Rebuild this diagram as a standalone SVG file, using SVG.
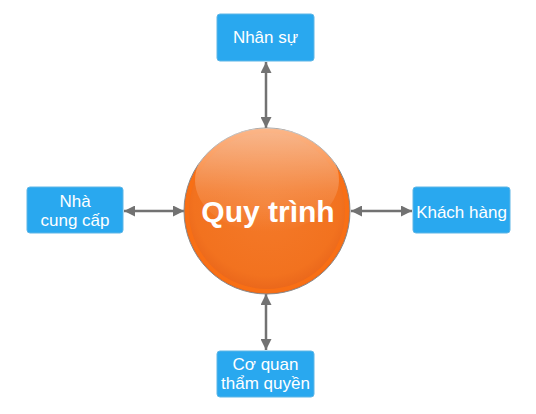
<svg xmlns="http://www.w3.org/2000/svg" width="536" height="414" viewBox="0 0 536 414">
<defs>
<style>
.box{fill:#29a8ef;stroke:#5fb6e6;stroke-width:1}
.lbl{font-family:"Liberation Sans",Arial,sans-serif;font-size:17px;fill:#ffffff;text-anchor:middle}
.conn{stroke:#727272;stroke-width:2.5;fill:none;marker-start:url(#ah);marker-end:url(#ah)}
.title{font-family:"Liberation Sans",Arial,sans-serif;font-size:30px;font-weight:bold;fill:#ffffff;text-anchor:middle}
</style>
<marker id="ah" viewBox="0 0 10 10" refX="10" refY="5" markerWidth="4.4" markerHeight="4.4" orient="auto-start-reverse" markerUnits="strokeWidth">
<path d="M0,0 L10,5 L0,10 Z" fill="#727272"/>
</marker>
<radialGradient id="ball" cx="0.5" cy="0.45" r="0.55">
<stop offset="0" stop-color="#f47a2a"/>
<stop offset="0.8" stop-color="#f2721f"/>
<stop offset="1" stop-color="#e8641a"/>
</radialGradient>
<linearGradient id="gloss" x1="0" y1="0" x2="0" y2="1">
<stop offset="0" stop-color="#ffffff" stop-opacity="0.5"/>
<stop offset="0.6" stop-color="#ffffff" stop-opacity="0.15"/>
<stop offset="1" stop-color="#ffffff" stop-opacity="0"/>
</linearGradient>
</defs>
<rect width="536" height="414" fill="#ffffff"/>
<g id="connectors">
<line class="conn" x1="266" y1="62" x2="266" y2="128"/>
<line class="conn" x1="266" y1="294" x2="266" y2="350"/>
<line class="conn" x1="124" y1="211" x2="184" y2="211"/>
<line class="conn" x1="351" y1="211" x2="412" y2="211"/>
</g>
<g id="center">
<circle cx="267" cy="211" r="83" fill="url(#ball)" stroke="#8a8a8a" stroke-width="1"/>
<circle cx="267" cy="211" r="80" fill="none" stroke="#f86f15" stroke-width="4"/>
<ellipse cx="267" cy="180" rx="72" ry="52" fill="url(#gloss)"/>
<text class="title" x="268" y="222">Quy trình</text>
</g>
<g id="nhansu">
<rect class="box" x="217" y="14" width="97" height="47" rx="3"/>
<text class="lbl" x="265.5" y="43">Nhân sự</text>
</g>
<g id="nhacungcap">
<rect class="box" x="27" y="187" width="96" height="46" rx="3"/>
<text class="lbl" x="75" y="207">Nhà</text>
<text class="lbl" x="75" y="226">cung cấp</text>
</g>
<g id="khachhang">
<rect class="box" x="413" y="187" width="97" height="46" rx="3"/>
<text class="lbl" x="461.5" y="218">Khách hàng</text>
</g>
<g id="coquan">
<rect class="box" x="217" y="351" width="97" height="46" rx="3"/>
<text class="lbl" x="265.5" y="370">Cơ quan</text>
<text class="lbl" x="265.5" y="389">thẩm quyền</text>
</g>
</svg>
